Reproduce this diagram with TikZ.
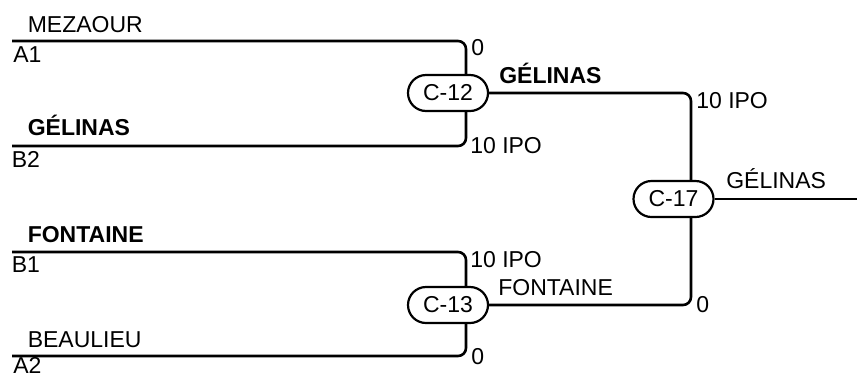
\documentclass[tikz,border=0pt]{standalone}
\usepackage{fontspec}
\setmainfont{Liberation Sans}
\begin{document}
\begin{tikzpicture}[x=1pt, y=-1pt, line width=2.6pt, rounded corners=8pt,
  match node/.style={draw, rectangle, rounded corners=18pt, minimum width=80pt, minimum height=36pt, inner sep=0pt, line width=2.2pt, font=\fontsize{23}{27}\selectfont},
  lbl/.style={anchor=base west, inner sep=0pt, font=\fontsize{23}{27}\selectfont},
  win/.style={lbl, font=\fontsize{23}{27}\selectfont\bfseries}]
\useasboundingbox (0,0) rectangle (858,376);
\node[match node] (c12) at (448,93) {C-12};
\node[match node] (c13) at (448,305) {C-13};
\node[match node] (c17) at (673.5,199) {C-17};
\coordinate (a1) at (12,41);
\coordinate (b2) at (12,146);
\coordinate (b1) at (12,252);
\coordinate (a2) at (12,356);
\coordinate (out) at (857,199);
% entry points on the matches
\coordinate (c12in1) at ([xshift=18pt]c12.north);
\coordinate (c12in2) at ([xshift=18pt]c12.south);
\coordinate (c13in1) at ([xshift=18pt]c13.north);
\coordinate (c13in2) at ([xshift=18pt]c13.south);
\coordinate (c17in1) at ([xshift=17.5pt]c17.north);
\coordinate (c17in2) at ([xshift=17.5pt]c17.south);
% players
\node[lbl] (n1) at (26.5,32) {MEZAOUR};
\node[lbl] (s1) at (12,62) {A1};
\node[win] (n2) at (26.5,135) {GÉLINAS};
\node[lbl] (s2) at (10.5,167) {B2};
\node[win] (n3) at (26.5,242) {FONTAINE};
\node[lbl] (s3) at (10.5,272) {B1};
\node[lbl] (n4) at (26.5,347) {BEAULIEU};
\node[lbl] (s4) at (12,373) {A2};
% scores and winners
\node[lbl] (r1) at (470,55) {0};
\node[lbl] (r2) at (469,153) {10 IPO};
\node[win] (w12) at (498,83) {GÉLINAS};
\node[lbl] (r3) at (469,267) {10 IPO};
\node[lbl] (r4) at (470,364) {0};
\node[lbl] (w13) at (497,295) {FONTAINE};
\node[lbl] (r5) at (695,108) {10 IPO};
\node[lbl] (r6) at (695,312) {0};
\node[lbl] (w17) at (725,188) {GÉLINAS};
\draw (a1) -| (c12in1);
\draw (b2) -| (c12in2);
\draw (b1) -| (c13in1);
\draw (a2) -| (c13in2);
\draw (c12.east) -| (c17in1);
\draw (c13.east) -| (c17in2);
\draw (c17.east) -- (out);
\end{tikzpicture}
\end{document}
